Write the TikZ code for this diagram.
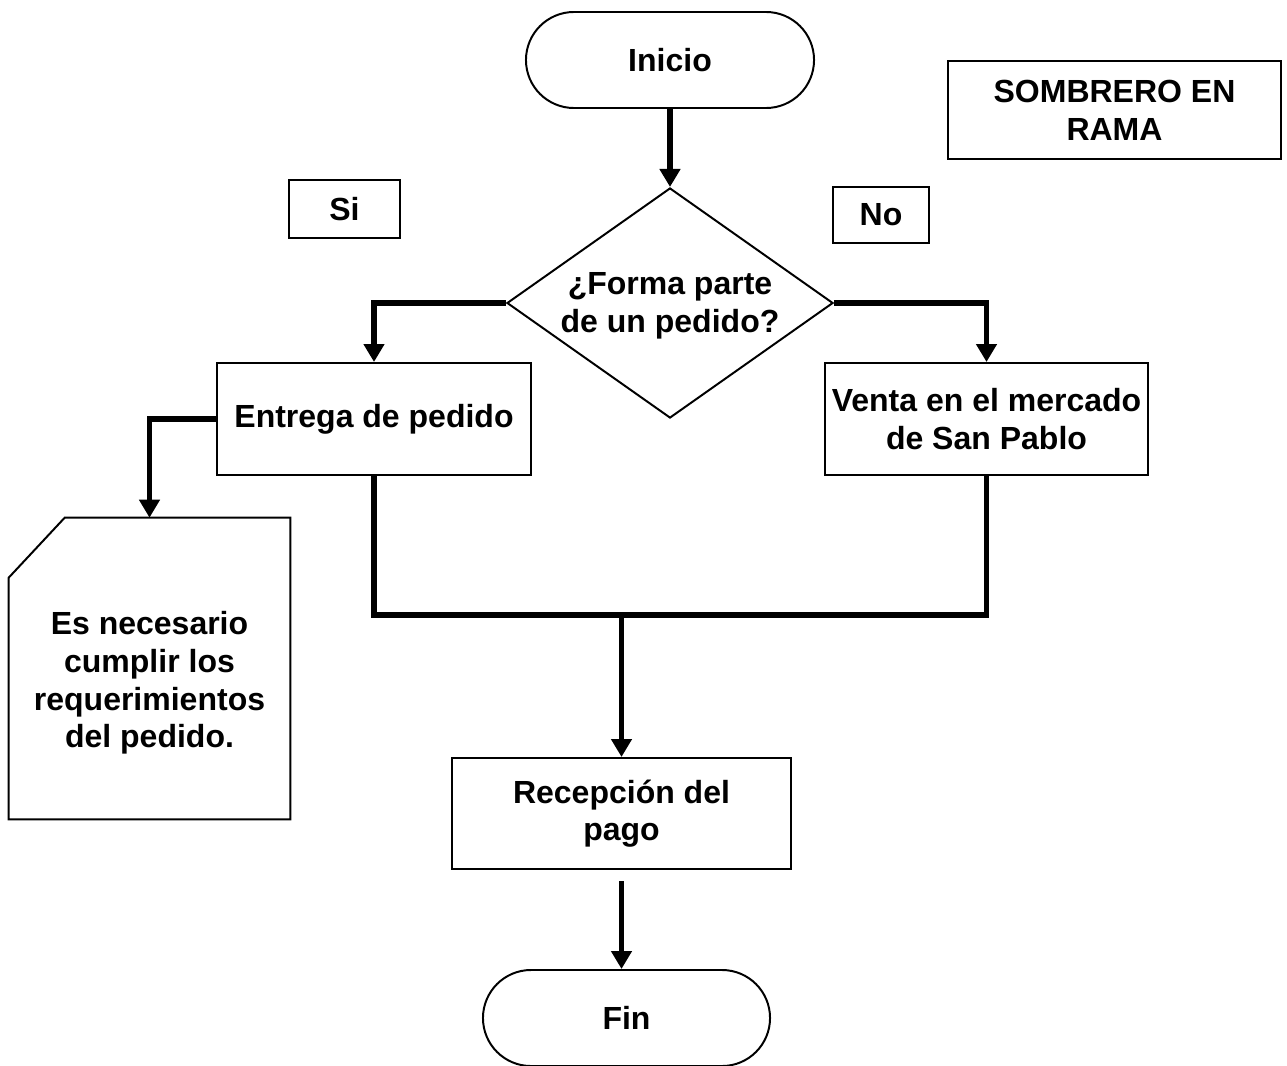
\documentclass[tikz,border=0pt]{standalone}
\usepackage{fontspec}
\setmainfont{Liberation Sans}
\usetikzlibrary{shapes.geometric,arrows.meta}
\begin{document}
\begin{tikzpicture}[x=0.025cm,y=-0.025cm,
  base/.style={draw=black,line width=1.4pt,inner sep=0pt,align=center,
    font=\fontsize{22.76}{26.8}\selectfont\bfseries},
  stadium/.style={base,rounded corners=1.2cm,minimum width=7.2cm,minimum height=2.4cm},
  procbox/.style={base,rectangle},
  decbox/.style={base,diamond,minimum width=8.15cm,minimum height=5.75cm},
  txt/.style={inner sep=0pt,align=center,font=\fontsize{22.76}{26.8}\selectfont\bfseries},
  conn/.style={line width=4.2pt},
  arr/.style={conn,-{Triangle[width=0.5cm,length=0.45cm]}}
]
\useasboundingbox (0,0) rectangle (1287,1065);

\node[stadium] (inicio) at (670,60) {Inicio};
\node[procbox,minimum width=2.775cm,minimum height=1.45cm] (si) at (344.5,209) {Si};
\node[procbox,minimum width=2.4cm,minimum height=1.4cm] (no) at (881,215) {No};
\node[procbox,minimum width=8.325cm,minimum height=2.45cm] (titulo) at (1114.5,110) {SOMBRERO EN\\RAMA};
\node[decbox] (dec) at (670,303) {};
\node[txt] (dectxt) at (670,306) {¿Forma parte\\de un pedido?};
\node[procbox,minimum width=7.85cm,minimum height=2.8cm] (entrega) at (374,419) {Entrega de pedido};
\node[procbox,minimum width=8.075cm,minimum height=2.8cm] (venta) at (986.5,419) {Venta en el mercado\\de San Pablo};
\node[inner sep=0pt,minimum width=7.025cm,minimum height=7.525cm] (nota) at (149.5,668.5) {};
\draw[line width=1.4pt] ([yshift=-1.5cm]nota.north west) -- ([xshift=1.4cm]nota.north west)
  -- (nota.north east) -- (nota.south east) -- (nota.south west) -- cycle;
\node[txt] (notatxt) at (149.5,683) {Es necesario\\cumplir los\\requerimientos\\del pedido.};
\node[procbox,minimum width=8.475cm,minimum height=2.775cm] (recep) at (621.5,813.5) {Recepción del\\pago};
\node[stadium,minimum width=7.175cm] (fin) at (626.5,1018) {Fin};

\coordinate (junta) at (621.5,615);

\draw[arr] (inicio.south) -- (dec.north);
\draw[arr] (dec.west) -| (entrega.north);
\draw[arr] (dec.east) -| (venta.north);
\draw[arr] (entrega.west) -| (nota.north);
\draw[conn] (entrega.south) |- (junta) -| (venta.south);
\draw[arr] (junta) -- (recep.north);
\draw[arr,shorten <=0.275cm] (recep.south) -- (recep.south |- fin.north);
\end{tikzpicture}
\end{document}
